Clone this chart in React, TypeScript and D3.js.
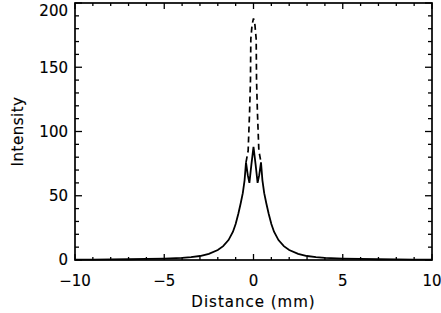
import React, { useEffect, useRef } from 'react';
import * as d3 from 'd3';

// solid profile (symmetric about 0)
const distance = [-10, -9, -8, -7, -6, -5, -4, -3.5, -3, -2.5, -2, -1.7, -1.4, -1.15, -1, -0.85, -0.72, -0.6, -0.5, -0.42, -0.32, -0.23, -0.12, 0,
  0.12, 0.23, 0.32, 0.42, 0.5, 0.6, 0.72, 0.85, 1, 1.15, 1.4, 1.7, 2, 2.5, 3, 3.5, 4, 5, 6, 7, 8, 9, 10];
const solid = [0.3, 0.35, 0.45, 0.6, 0.8, 1.1, 1.6, 2.2, 3.1, 4.8, 7.8, 10.8, 15.5, 22, 28, 36, 44, 52, 62, 76, 66, 60, 74, 88,
  74, 60, 66, 76, 62, 52, 44, 36, 28, 22, 15.5, 10.8, 7.8, 4.8, 3.1, 2.2, 1.6, 1.1, 0.8, 0.6, 0.45, 0.35, 0.3];

// dashed profile, only where it leaves the solid one
const dashDistance = [-0.42, -0.3, -0.22, -0.17, -0.15, -0.08, 0, 0.08, 0.15, 0.17, 0.22, 0.3, 0.42];
const dashed = [76, 85, 115, 140, 172, 183, 188, 183, 172, 140, 115, 85, 76];

const xMajor = [-10, -5, 0, 5, 10];
const yMajor = [0, 50, 100, 150, 200];

export default function App() {
  const svgRef = useRef<SVGSVGElement>(null);
  const width = 441;
  const height = 313;

  useEffect(() => {
    if (!svgRef.current) return;
    const svg = d3.select(svgRef.current);
    svg.selectAll('*').remove();

    const margin = { top: 3, right: 9, bottom: 53, left: 75 };
    const x = d3.scaleLinear().domain([-10, 10]).range([margin.left, width - margin.right]);
    const y = d3.scaleLinear().domain([0, 200]).range([height - margin.bottom, margin.top]);
    const font = '"DejaVu Sans", sans-serif';

    // curves
    const line = d3.line<[number, number]>()
      .x(d => x(d[0]))
      .y(d => y(d[1]));

    svg.append('path')
      .datum(dashDistance.map((d, i) => [d, dashed[i]] as [number, number]))
      .attr('d', line)
      .attr('fill', 'none')
      .attr('stroke', '#000')
      .attr('stroke-width', 1.7)
      .attr('stroke-dasharray', '6,4');

    svg.append('path')
      .datum(distance.map((d, i) => [d, solid[i]] as [number, number]))
      .attr('d', line)
      .attr('fill', 'none')
      .attr('stroke', '#000')
      .attr('stroke-width', 1.8);

    // ticks on all four sides, pointing inward
    const xMinor = d3.range(-10, 11, 1);
    const yMinor = d3.range(0, 201, 10);
    const bottom = y(0);
    const top = y(200);
    const left = x(-10);
    const right = x(10);
    const tickG = svg.append('g').attr('stroke', '#000').attr('stroke-width', 1.3);

    xMinor.forEach(v => {
      const len = v % 5 === 0 ? 6 : 3;
      tickG.append('line').attr('x1', x(v)).attr('x2', x(v)).attr('y1', bottom).attr('y2', bottom - len);
      tickG.append('line').attr('x1', x(v)).attr('x2', x(v)).attr('y1', top).attr('y2', top + len);
    });
    yMinor.forEach(v => {
      const len = v % 50 === 0 ? 7 : 4;
      tickG.append('line').attr('y1', y(v)).attr('y2', y(v)).attr('x1', left).attr('x2', left + len);
      tickG.append('line').attr('y1', y(v)).attr('y2', y(v)).attr('x1', right).attr('x2', right - len);
    });

    // frame
    svg.append('rect')
      .attr('x', left)
      .attr('y', top)
      .attr('width', right - left)
      .attr('height', bottom - top)
      .attr('fill', 'none')
      .attr('stroke', '#000')
      .attr('stroke-width', 1.7);

    const addText = (sel: d3.Selection<SVGTextElement, any, any, any>) =>
      sel.attr('font-family', font)
        .attr('font-size', 15)
        .attr('fill', '#000')
        .attr('stroke', '#000')
        .attr('stroke-width', 0.15);

    // tick labels
    svg.selectAll('.xlab')
      .data(xMajor)
      .enter().append('text')
      .attr('x', d => x(d))
      .attr('y', bottom + 26)
      .attr('text-anchor', 'middle')
      .call(addText)
      .text(d => (d < 0 ? '\u2212' + Math.abs(d) : String(d)));

    svg.selectAll('.ylab')
      .data(yMajor)
      .enter().append('text')
      .attr('x', left - 7)
      .attr('y', d => Math.max(y(d), 10.5))
      .attr('dy', '0.36em')
      .attr('text-anchor', 'end')
      .call(addText)
      .text(d => String(d));

    // axis titles
    svg.append('text')
      .attr('x', (left + right) / 2)
      .attr('y', 307)
      .attr('text-anchor', 'middle')
      .attr('letter-spacing', 1)
      .call(addText)
      .text('Distance (mm)');

    svg.append('text')
      .attr('transform', `translate(23,${(top + bottom) / 2}) rotate(-90)`)
      .attr('text-anchor', 'middle')
      .attr('letter-spacing', 0.5)
      .call(addText)
      .text('Intensity');
  }, []);

  return (
    <svg
      ref={svgRef}
      width={width}
      height={height}
      style={{ position: 'absolute', left: 0, top: 0, background: '#fff' }}
    />
  );
}
